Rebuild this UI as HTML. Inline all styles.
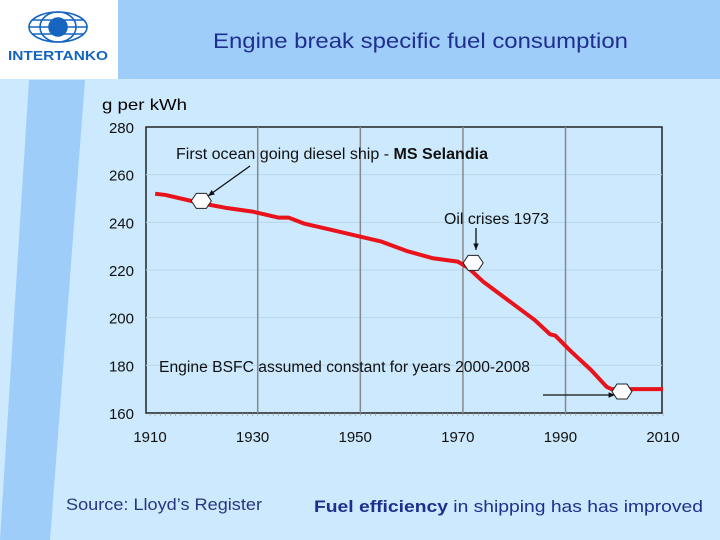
<!DOCTYPE html>
<html><head><meta charset="utf-8"><style>
html,body{margin:0;padding:0;width:720px;height:540px;overflow:hidden;background:#cce9fd;font-family:"Liberation Sans",sans-serif}
</style></head><body>
<svg width="720" height="540" viewBox="0 0 720 540" xmlns="http://www.w3.org/2000/svg">
<rect x="0" y="0" width="720" height="540" fill="#cce9fd"/>
<rect x="118" y="0" width="602" height="79" fill="#9fcdf9"/>
<polygon points="29,80 85,80 50,540 0,540" fill="#9fcdf9"/>
<rect x="0" y="0" width="118" height="79" fill="#ffffff"/>
<g fill="none" stroke="#1565c0" stroke-width="1.6">
<ellipse cx="58" cy="27" rx="29" ry="15"/>
<ellipse cx="58" cy="27" rx="18" ry="15"/>
<line x1="29" y1="27" x2="87" y2="27"/>
<line x1="32" y1="20" x2="84" y2="20"/>
<line x1="32" y1="34" x2="84" y2="34"/>
<circle cx="58" cy="27" r="9" fill="#1565c0"/>
</g>
<text x="8" y="60" font-size="13" font-weight="bold" fill="#1565c0" textLength="100" lengthAdjust="spacingAndGlyphs">INTERTANKO</text>
<text x="213" y="48" font-size="21" fill="#1f2f8f" textLength="415" lengthAdjust="spacingAndGlyphs">Engine break specific fuel consumption</text>
<text x="102" y="110" font-size="16" fill="#000" textLength="85" lengthAdjust="spacingAndGlyphs">g per kWh</text>
<g id="chart"></g>
<text x="66" y="510" font-size="16.5" fill="#2a3580" textLength="196" lengthAdjust="spacingAndGlyphs">Source: Lloyd’s Register</text>
<text x="314" y="512" font-size="17" fill="#1f2f8f" textLength="389" lengthAdjust="spacingAndGlyphs"><tspan font-weight="bold">Fuel efficiency </tspan> in shipping has has improved</text>
</svg>
<script>
const years = [1911,1913,1918,1920,1925,1930,1935,1937,1940,1945,1950,1955,1960,1965,1970,1972,1975,1980,1985,1988,1989,1992,1996,1999,2000,2010];
const bsfc  = [252,251.5,249,248,246,244.5,242,242,239.5,237,234.5,232,228,225,223.5,221,215,207,199,193,192.5,186,178,171,170,170];
const yTicks = [160,180,200,220,240,260,280];
const xTickLabels = [1910,1930,1950,1970,1990,2010];
const gridYears = [1931,1951,1971,1991];
const markerYears = [1920,1973,2002];
const markerValues = [249,223,169];

const NS="http://www.w3.org/2000/svg";
const g=document.getElementById('chart');
const X0=146,X1=662,Y0=127,Y1=413;
function xs(v){return 150+(v-1910)*5.13;}
function ys(v){return Y1-(v-160)*(Y1-Y0)/120;}
function el(t,a,p){const e=document.createElementNS(NS,t);for(const k in a)e.setAttribute(k,a[k]);(p||g).appendChild(e);return e;}

const frame=el('rect',{x:X0,y:Y0,width:X1-X0,height:Y1-Y0,fill:'none',stroke:'#222','stroke-width':1.5});


yTicks.forEach(v=>{
  if(v>160&&v<280){const l=el('line',{x1:X0,x2:X1,y1:ys(v),y2:ys(v),stroke:'#b8d8ee','stroke-width':1});
  
  }
  const t=el('text',{x:134,y:ys(v)+6,'text-anchor':'end','font-size':15,fill:'#111'});
  t.textContent=v;
  
  
});
gridYears.forEach(v=>{
  const l=el('line',{x1:xs(v),x2:xs(v),y1:Y0,y2:Y1,stroke:'#888','stroke-width':1.5});
  
  
});
for(let yr=1910;yr<=2010;yr++){
  const l=el('line',{x1:xs(yr),x2:xs(yr),y1:Y1,y2:Y1+3,stroke:'#999','stroke-width':0.6});
  
  
}
xTickLabels.forEach(v=>{
  const t=el('text',{x:xs(v),y:442,'text-anchor':'middle','font-size':15,fill:'#111'});
  t.textContent=v;
  
  
});
const line=el('polyline',{points:years.map((y,i)=>xs(y)+','+ys(bsfc[i])).join(' '),fill:'none',stroke:'#e8131b','stroke-width':4,'stroke-linejoin':'round'});



function arrow(x1,y1,x2,y2,name){
  const l=el('line',{x1,y1,x2,y2,stroke:'#111','stroke-width':1.3});
  
  
  const a=Math.atan2(y2-y1,x2-x1),s=7;
  const p=el('polygon',{points:`${x2},${y2} ${x2-s*Math.cos(a-0.4)},${y2-s*Math.sin(a-0.4)} ${x2-s*Math.cos(a+0.4)},${y2-s*Math.sin(a+0.4)}`,fill:'#111'});
  
  
}
arrow(250,166,208,196,'selandia-arrow');
arrow(476,228,476,250,'oil-crisis-arrow');
arrow(543,395,615,395,'constant-arrow');

markerYears.forEach((yr,i)=>{
  const cx=xs(yr),cy=ys(markerValues[i]);
  const pts=[[-10,0],[-5,-7.5],[5,-7.5],[10,0],[5,7.5],[-5,7.5]].map(p=>(cx+p[0])+','+(cy+p[1])).join(' ');
  const h=el('polygon',{points:pts,fill:'#fff',stroke:'#222','stroke-width':1});
  
  
});

function label(x,y,txt,name,len){
  const t=el('text',{x,y,'font-size':15.5,fill:'#111',textLength:len,lengthAdjust:'spacingAndGlyphs'});
  t.innerHTML=txt;
  
  
}
label(176,159,'First ocean going diesel ship - <tspan font-weight="bold">MS Selandia</tspan>','selandia-annotation',312);
label(444,224,'Oil crises 1973','oil-crisis-annotation',105);
label(159,372,'Engine BSFC assumed constant for years 2000-2008','constant-annotation',371);
</script>
</body></html>
